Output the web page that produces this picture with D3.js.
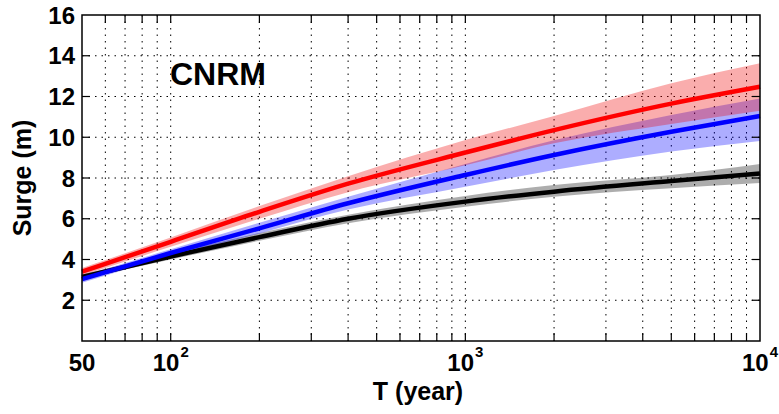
<!DOCTYPE html>
<html>
<head>
<meta charset="utf-8">
<script src="https://cdn.jsdelivr.net/npm/d3@7"></script>
<style>
  body { margin: 0; background: #fff; }
  svg { font-family: "Liberation Sans", Arial, sans-serif; font-weight: bold; }
</style>
</head>
<body>
<div id="chart"></div>
<script>
// return periods (years)
const T = [50, 100, 200, 400, 1000, 2000, 5000, 10000];

// central estimates (m)
const redMid   = [3.40, 4.87, 6.34, 7.72, 9.25, 10.35, 11.65, 12.48];
const blueMid  = [3.04, 4.32, 5.53, 6.76, 8.15, 9.13, 10.27, 11.04];
const blackMid = [3.14, 4.15, 5.10, 6.00, 6.84, 7.33, 7.85, 8.22];

// confidence bands (m)
const redLo   = [3.22, 4.62, 6.00, 7.30, 8.62, 9.70, 10.65, 11.30];
const redHi   = [3.58, 5.08, 6.62, 8.08, 9.86, 11.04, 12.65, 13.63];
const blueLo  = [2.86, 4.15, 5.28, 6.45, 7.57, 8.39, 9.30, 9.82];
const blueHi  = [3.20, 4.50, 5.80, 7.08, 8.69, 9.85, 11.09, 11.90];
const blackLo = [3.02, 4.00, 4.92, 5.78, 6.59, 7.08, 7.50, 7.75];
const blackHi = [3.26, 4.30, 5.30, 6.20, 7.12, 7.66, 8.15, 8.69];

const yTicks = [2, 4, 6, 8, 10, 12, 14, 16];
const xMinor = [60, 70, 80, 90, 100, 200, 300, 400, 500, 600, 700, 800, 900,
                1000, 2000, 3000, 4000, 5000, 6000, 7000, 8000, 9000];
const xLabels = [{v: 50, base: "50", exp: ""}, {v: 100, base: "10", exp: "2"},
                 {v: 1000, base: "10", exp: "3"}, {v: 10000, base: "10", exp: "4"}];

const width = 779, height = 414;
const pLeft = 82, pRight = 760, pTop = 15, pBottom = 341;

const svg = d3.select("#chart").append("svg")
  .attr("width", width)
  .attr("height", height);

const x = d3.scaleLog().domain([50, 10000]).range([pLeft, pRight]);
const y = d3.scaleLinear().domain([0, 16]).range([pBottom, pTop]);

// dotted grid
const grid = svg.append("g")
  .attr("stroke", "#000").attr("stroke-width", 1)
  .attr("stroke-dasharray", "1.5,5");
grid.selectAll(".vgrid")
  .data(xMinor)
  .enter().append("line")
  .attr("x1", d => x(d)).attr("x2", d => x(d))
  .attr("y1", pTop).attr("y2", pBottom);
grid.selectAll(".hgrid")
  .data(yTicks.filter(d => d < 16))
  .enter().append("line")
  .attr("x1", pLeft).attr("x2", pRight)
  .attr("y1", d => y(d)).attr("y2", d => y(d));

const series = [
  {mid: blackMid, lo: blackLo, hi: blackHi, line: "#000000", band: "#000000", op: 0.32},
  {mid: blueMid, lo: blueLo, hi: blueHi, line: "#0000ff", band: "#0000ff", op: 0.32},
  {mid: redMid, lo: redLo, hi: redHi, line: "#ff0000", band: "#ee0000", op: 0.32}
];

const area = d3.area()
  .x(d => x(d.t))
  .y0(d => y(d.lo))
  .y1(d => y(d.hi))
  .curve(d3.curveMonotoneX);

const line = d3.line()
  .x(d => x(d.t))
  .y(d => y(d.v))
  .curve(d3.curveMonotoneX);

series.forEach(s => {
  svg.append("path")
    .datum(T.map((t, i) => ({t: t, lo: s.lo[i], hi: s.hi[i]})))
    .attr("d", area)
    .attr("fill", s.band)
    .attr("fill-opacity", s.op)
    .attr("stroke", "none");
});

series.forEach(s => {
  svg.append("path")
    .datum(T.map((t, i) => ({t: t, v: s.mid[i]})))
    .attr("d", line)
    .attr("fill", "none")
    .attr("stroke", s.line)
    .attr("stroke-width", 4.5);
});

// ticks (inside, on all four sides)
const tickLen = 8;
const ticks = svg.append("g").attr("stroke", "#000").attr("stroke-width", 1.2);
xMinor.forEach(v => {
  ticks.append("line").attr("x1", x(v)).attr("x2", x(v)).attr("y1", pBottom).attr("y2", pBottom - tickLen);
  ticks.append("line").attr("x1", x(v)).attr("x2", x(v)).attr("y1", pTop).attr("y2", pTop + tickLen);
});
yTicks.filter(d => d < 16).forEach(v => {
  ticks.append("line").attr("x1", pLeft).attr("x2", pLeft + tickLen).attr("y1", y(v)).attr("y2", y(v));
  ticks.append("line").attr("x1", pRight).attr("x2", pRight - tickLen).attr("y1", y(v)).attr("y2", y(v));
});

// frame
svg.append("rect")
  .attr("x", pLeft).attr("y", pTop)
  .attr("width", pRight - pLeft).attr("height", pBottom - pTop)
  .attr("fill", "none").attr("stroke", "#000").attr("stroke-width", 1.5);

// y tick labels
svg.selectAll(".ylab")
  .data(yTicks)
  .enter().append("text")
  .attr("x", pLeft - 7)
  .attr("y", d => y(d))
  .attr("dy", "0.36em")
  .attr("text-anchor", "end")
  .attr("font-size", 24)
  .text(d => d);

// x tick labels
xLabels.forEach(l => {
  const t = svg.append("text")
    .attr("x", x(l.v))
    .attr("y", 371)
    .attr("text-anchor", "middle")
    .attr("font-size", 24);
  t.append("tspan").text(l.base);
  if (l.exp) {
    t.append("tspan").attr("dy", -14).attr("dx", 1).attr("font-size", 15).text(l.exp);
  }
});

// axis titles
svg.append("text")
  .attr("x", (pLeft + pRight) / 2 - 3)
  .attr("y", 400)
  .attr("text-anchor", "middle")
  .attr("font-size", 25)
  .text("T (year)");

svg.append("text")
  .attr("transform", `translate(31,${(pTop + pBottom) / 2}) rotate(-90)`)
  .attr("text-anchor", "middle")
  .attr("font-size", 25)
  .text("Surge (m)");

svg.append("text")
  .attr("x", 170)
  .attr("y", 85)
  .attr("font-size", 32)
  .text("CNRM");
</script>
</body>
</html>
